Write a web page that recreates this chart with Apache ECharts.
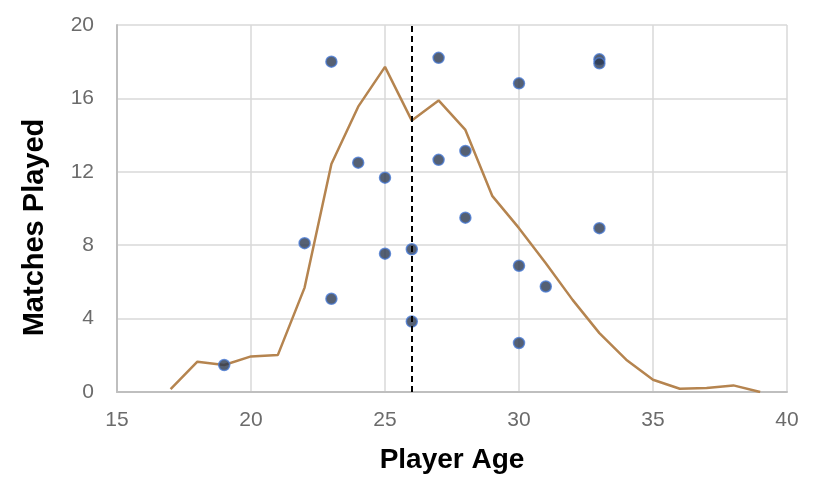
<!DOCTYPE html>
<html>
<head>
<meta charset="utf-8">
<script src="https://cdn.jsdelivr.net/npm/echarts@6/dist/echarts.min.js"></script>
<style>html,body{margin:0;padding:0;background:#fff}#c{width:826px;height:494px}</style>
</head>
<body>
<div id="c"></div>
<script>
// Smoothed line: age vs matches played
const lineAges = [17, 18, 19, 20, 21, 22, 23, 24, 25, 26, 27, 28, 29, 30, 31, 32, 33, 34, 35, 36, 37, 38, 39];
const lineValues = [0.16, 1.65, 1.47, 1.94, 2.01, 5.69, 12.43, 15.55, 17.72, 14.79, 15.89, 14.28, 10.69, 8.93, 7.02, 5.02, 3.21, 1.76, 0.67, 0.18, 0.22, 0.36, 0.0];
// Individual players
const playerAges = [19, 22, 23, 23, 24, 25, 25, 26, 26, 27, 27, 28, 28, 30, 30, 30, 31, 33, 33, 33];
const playerMatches = [1.47, 8.11, 18.0, 5.08, 12.5, 11.68, 7.54, 7.78, 3.84, 18.21, 12.65, 13.14, 9.5, 16.82, 6.88, 2.67, 5.75, 18.13, 17.91, 8.93];
const markerAge = 26;
const xTicks = [15, 20, 25, 30, 35, 40];
const yTicks = [0, 4, 8, 12, 16, 20];

const chart = echarts.init(document.getElementById('c'), null, {renderer: 'canvas'});
const font = '"Liberation Sans", Arial, sans-serif';
chart.setOption({
  animation: false,
  backgroundColor: '#ffffff',
  grid: {left: 117, right: 39, top: 25, bottom: 102, containLabel: false},
  xAxis: {
    type: 'value', min: xTicks[0], max: xTicks[xTicks.length - 1], interval: 5,
    name: 'Player Age', nameLocation: 'middle', nameGap: 54,
    nameTextStyle: {fontFamily: font, fontWeight: 'bold', fontSize: 28, color: '#000'},
    axisLine: {show: true, lineStyle: {color: '#bfbfbf', width: 2}},
    axisTick: {show: false},
    axisLabel: {fontFamily: font, fontSize: 21, color: '#6b6b6b', margin: 18},
    splitLine: {show: true, lineStyle: {color: '#d9d9d9', width: 1.5}}
  },
  yAxis: {
    type: 'value', min: yTicks[0], max: yTicks[yTicks.length - 1], interval: 4,
    name: 'Matches Played', nameLocation: 'middle', nameGap: 68,
    nameTextStyle: {fontFamily: font, fontWeight: 'bold', fontSize: 29, color: '#000', padding: [0, 38, 0, 0]},
    axisLine: {show: true, lineStyle: {color: '#bfbfbf', width: 2}},
    axisTick: {show: false},
    axisLabel: {fontFamily: font, fontSize: 21, color: '#6b6b6b', margin: 23},
    splitLine: {show: true, lineStyle: {color: '#d9d9d9', width: 1.5}}
  },
  series: [
    {
      type: 'line',
      data: lineAges.map((a, i) => [a, lineValues[i]]),
      showSymbol: false,
      lineStyle: {color: '#b5844f', width: 2.5},
      z: 2,
      markLine: {
        silent: true, symbol: 'none', label: {show: false},
        lineStyle: {color: '#000', type: [6, 4], width: 2},
        data: [{xAxis: markerAge}],
        z: 5
      }
    },
    {
      type: 'scatter',
      data: playerAges.map((a, i) => [a, playerMatches[i]]),
      symbolSize: 11,
      itemStyle: {color: '#2b3850', borderColor: '#4a7bd3', borderWidth: 1.5},
      z: 3
    }
  ]
});
</script>
</body>
</html>
